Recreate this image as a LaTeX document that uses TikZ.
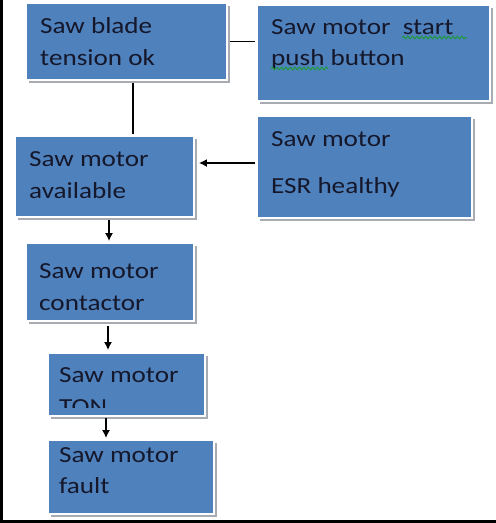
\documentclass[tikz,border=0pt]{standalone}
\usepackage{fontspec}
\setmainfont{Carlito}[FakeStretch=1.18]
\usetikzlibrary{shadows,arrows.meta,calc,decorations.pathmorphing}
\definecolor{boxblue}{HTML}{4F81BD}
\definecolor{shadowgray}{HTML}{A9ABB3}
\definecolor{inkdark}{HTML}{15172A}
\definecolor{spellgreen}{HTML}{1E9A3A}
\tikzset{
  box/.style={rectangle, fill=boxblue, draw=white, line width=1.8pt, inner sep=0pt,
    drop shadow={shadow xshift=3pt, shadow yshift=-3pt, fill=shadowgray, opacity=1}},
  lbl/.style={anchor=base west, inner sep=0pt, text=inkdark, font=\fontsize{23}{28}\selectfont},
  link/.style={draw=black, line width=1.5pt},
  arr/.style={link, -{Latex[length=8pt,width=8pt]}},
  squiggle/.style={draw=spellgreen, line width=1pt,
    decorate, decoration={snake, amplitude=1.3pt, segment length=4.5pt}}
}
\begin{document}
\begin{tikzpicture}[x=1pt,y=-1pt]
\useasboundingbox (0,0) rectangle (496,523);
\fill[white] (0,0) rectangle (496,523);
% frame edges
\fill[black] (0,0) rectangle (2.5,523);
\fill[black] (0,519.5) rectangle (496,523);

% boxes
\node[box, minimum width=201pt, minimum height=77pt]  (b1) at (126.5,41.5) {};
\node[box, minimum width=233pt, minimum height=96pt]  (b2) at (373.5,53) {};
\node[box, minimum width=179pt, minimum height=81pt]  (b3) at (104.5,176.5) {};
\node[box, minimum width=215pt, minimum height=102pt] (b4) at (364.5,167) {};
\node[box, minimum width=168pt, minimum height=78pt]  (b5) at (110,282) {};
\node[box, minimum width=157pt, minimum height=63pt]  (b6) at (126.5,384.5) {};
\node[box, minimum width=166pt, minimum height=74pt]  (b7) at (131,477) {};

% texts
\node[lbl] (t1a) at (40,33) {Saw blade};
\node[lbl] (t1b) at (40,65) {tension ok};
\node[lbl] (t2a) at (271,34) {Saw motor\ \ start};
\node[lbl] (t2b) at (271,65) {push button};
\node[lbl] (t3a) at (29,166) {Saw motor};
\node[lbl] (t3b) at (29,198) {available};
\node[lbl] (t4a) at (271,146) {Saw motor};
\node[lbl] (t4b) at (271,193) {ESR healthy};
\node[lbl] (t5a) at (39,278) {Saw motor};
\node[lbl] (t5b) at (39,310) {contactor};
\node[lbl] (t6a) at (59,382) {Saw motor};
\begin{scope}
  \clip (48,353) rectangle (205,407);
  \node[lbl] (t6b) at (59,414) {TON};
\end{scope}
\node[lbl] (t7a) at (59,462) {Saw motor};
\node[lbl] (t7b) at (59,493) {fault};

% spelling marks
\draw[squiggle] (402,37.5) -- (467,37.5);
\draw[squiggle] (271,68.5) -- (328,68.5);

% connectors
\draw[link] ($(b1.east)+(2,0)$) -- ($(b1.east -| b2.west)+(-1,0)$);
\draw[link] ($(b1.south)+(6.5,2)$) -- ($(b3.north -| 133,0)+(0,-1)$);
\draw[arr] ($(b4.west)+(-1,-4)$) -- ($(b3.east |- 0,163)+(4,0)$);
\draw[arr] ($(b3.south -| 109,0)+(0,2)$) -- ($(b5.north -| 109,0)+(0,-1)$);
\draw[arr] ($(b5.south -| 108,0)+(0,4)$) -- ($(b6.north -| 108,0)+(0,-2)$);
\draw[arr] ($(b6.south -| 106,0)+(0,1.5)$) -- ($(b7.north -| 106,0)+(0,-1)$);
\end{tikzpicture}
\end{document}
